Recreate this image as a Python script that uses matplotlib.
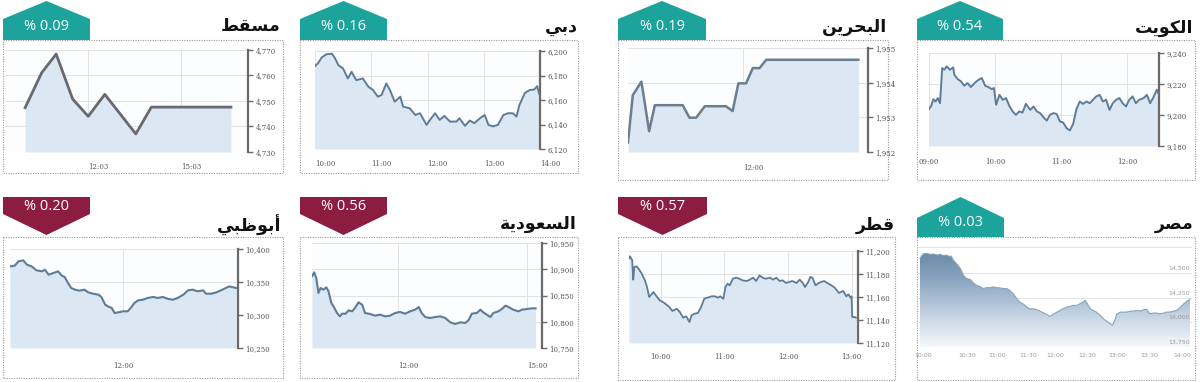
import numpy as np
import matplotlib
matplotlib.use('Agg')
import matplotlib.pyplot as plt
from matplotlib.patches import Polygon, Rectangle
from matplotlib.colors import LinearSegmentedColormap

W, H = 1200, 382

# ---------------- data ----------------
# titles (Arabic presentation forms, visual order)
t_muscat = "\uFEC2\uFED8\uFEB4\uFEE3"                      # مسقط
t_dubai = "\uFEF2\uFE91\uFEA9"                             # دبي
t_bahrain = "\uFEE6\uFEF3\uFEAE\uFEA4\uFE92\uFEDF\uFE8D"   # البحرين
t_kuwait = "\uFE96\uFEF3\uFEEE\uFEDC\uFEDF\uFE8D"          # الكويت
t_abudhabi = "\uFEF2\uFE92\uFEC7\uFEEE\uFE91\uFE83"        # أبوظبي
t_saudi = "\uFE94\uFEF3\uFEA9\uFEEE\uFECC\uFEB4\uFEDF\uFE8D"  # السعودية
t_qatar = "\uFEAE\uFEC4\uFED7"                             # قطر
t_egypt = "\uFEAE\uFEBC\uFEE3"                             # مصر

pct_muscat, pct_dubai, pct_bahrain, pct_kuwait = "% 0.09", "% 0.16", "% 0.19", "% 0.54"
pct_abudhabi, pct_saudi, pct_qatar, pct_egypt = "% 0.20", "% 0.56", "% 0.57", "% 0.03"

# Muscat (minutes after 10:00)
muscat_t = [1, 33, 61, 93, 123, 155, 215, 245, 399]
muscat_v = [4747.4, 4761.1, 4768.4, 4750.7, 4744.0, 4752.6, 4737.1, 4747.6, 4747.6]
muscat_yt = [4730, 4740, 4750, 4760, 4770]
muscat_yl = ["4,730", "4,740", "4,750", "4,760", "4,770"]
muscat_xt = [123, 303]
muscat_xl = ["12:03", "15:03"]

# Dubai (minutes after 10:00)
dubai_t = [0, 3.5, 7, 12, 18, 21, 25, 30, 35, 39, 44, 51, 57, 62, 67, 71, 76, 80, 85, 91,
           94, 101, 107, 112, 119, 124, 128, 133, 138, 144, 151, 154, 160, 165, 170, 176,
           181, 185, 190, 195, 201, 206, 211, 215, 218, 224, 229, 234, 237, 239]
dubai_v = [6187.6, 6190.3, 6194.6, 6197.3, 6197.8, 6194.6, 6188.4, 6185.7, 6177.6, 6183.0,
           6176.2, 6177.6, 6170.8, 6168.1, 6162.7, 6164.1, 6173.5, 6168.1, 6158.6, 6162.7,
           6154.6, 6153.2, 6147.8, 6149.2, 6139.7, 6145.1, 6149.2, 6143.8, 6147.0, 6142.4,
           6142.4, 6145.1, 6138.9, 6143.2, 6141.1, 6145.1, 6147.8, 6139.7, 6138.4, 6139.7,
           6147.8, 6149.2, 6149.2, 6146.5, 6155.9, 6165.9, 6168.1, 6168.6, 6171.3, 6165.4]
dubai_yt = [6120, 6140, 6160, 6180, 6200]
dubai_yl = ["6,120", "6,140", "6,160", "6,180", "6,200"]
dubai_xt = [0, 60, 120, 180, 240]
dubai_xl = ["10:00", "11:00", "12:00", "13:00", "14:00"]

# Bahrain (minutes after 10:00)
bahrain_t = [0, 5, 14, 22, 28, 57, 64, 71, 80, 102, 109, 115, 123, 130, 137, 144, 240]
bahrain_v = [1952.28, 1953.64, 1954.03, 1952.60, 1953.35, 1953.35, 1952.99, 1952.99, 1953.32,
             1953.32, 1953.18, 1953.98, 1953.98, 1954.42, 1954.42, 1954.66, 1954.66]
bahrain_yt = [1952, 1953, 1954, 1955]
bahrain_yl = ["1,952", "1,953", "1,954", "1,955"]
bahrain_xt = [120]
bahrain_xl = ["12:00"]

# Kuwait (minutes after 09:00)
kuwait_t = [0, 2, 4, 6, 8, 10, 12, 14, 16, 19, 22, 23, 26, 29, 32, 35, 38, 42, 45, 48,
            51, 54, 57, 59, 61, 64, 67, 70, 73, 76, 79, 82, 85, 88, 92, 95, 98, 101, 104, 107,
            110, 113, 116, 119, 122, 125, 128, 131, 134, 137, 140, 143, 146, 149, 152, 155,
            158, 161, 164, 167, 170, 173, 176, 179, 182, 185, 188, 191, 195, 198, 201, 204, 207, 209]
kuwait_v = [9203.8, 9205.9, 9210.2, 9208.7, 9210.9, 9207.6, 9230.3, 9229.2, 9231.4, 9229.2,
            9230.7, 9226.0, 9223.2, 9221.7, 9218.9, 9220.6, 9218.0, 9221.0, 9222.7, 9223.8,
            9218.9, 9218.0, 9216.7, 9217.4, 9206.6, 9213.0, 9209.8, 9210.9, 9205.9, 9202.3,
            9200.1, 9202.3, 9201.6, 9207.2, 9203.3, 9205.5, 9202.3, 9201.2, 9198.6, 9196.4,
            9200.1, 9201.2, 9200.7, 9195.8, 9195.1, 9191.5, 9190.0, 9194.3, 9203.8, 9208.7,
            9207.2, 9208.7, 9207.6, 9209.8, 9212.0, 9213.0, 9208.7, 9209.8, 9203.3, 9207.6,
            9209.8, 9210.9, 9207.6, 9205.5, 9209.8, 9212.0, 9207.6, 9209.8, 9210.9, 9213.0,
            9207.6, 9211.5, 9216.3, 9213.0]
kuwait_yt = [9180, 9200, 9220, 9240]
kuwait_yl = ["9,180", "9,200", "9,220", "9,240"]
kuwait_xt = [0, 60, 120, 180]
kuwait_xl = ["09:00", "10:00", "11:00", "12:00"]

# Abu Dhabi (minutes after 10:00)
abudhabi_t = [0, 5, 9, 14, 18, 23, 28, 34, 37, 41, 44, 48, 51, 55, 58, 62, 65, 69, 74, 79,
              83, 88, 94, 97, 101, 104, 108, 111, 115, 120, 125, 129, 132, 136, 141, 146, 152,
              157, 162, 168, 173, 178, 184, 189, 194, 199, 205, 208, 214, 219, 224, 229, 233, 237, 240]
abudhabi_v = [10373.7, 10374.7, 10381.3, 10382.8, 10376.3, 10373.7, 10367.7, 10366.2, 10368.7,
              10361.1, 10362.6, 10364.6, 10366.2, 10359.6, 10357.6, 10347.5, 10340.9, 10338.4,
              10336.9, 10338.4, 10334.3, 10332.3, 10330.8, 10327.3, 10315.7, 10313.1, 10310.6,
              10303.0, 10304.0, 10305.6, 10305.6, 10312.1, 10318.2, 10322.2, 10323.2, 10325.8,
              10327.3, 10325.8, 10327.3, 10324.3, 10323.2, 10325.8, 10330.8, 10337.4, 10338.4,
              10335.9, 10337.4, 10332.3, 10332.3, 10334.3, 10337.4, 10340.9, 10343.4, 10341.9, 10340.9]
abudhabi_yt = [10250, 10300, 10350, 10400]
abudhabi_yl = ["10,250", "10,300", "10,350", "10,400"]
abudhabi_xt = [120]
abudhabi_xl = ["12:00"]

# Saudi (minutes after 10:00)
saudi_t = [0, 3, 6, 9, 12, 16, 20, 23, 27, 30, 35, 39, 42, 47, 51, 56, 60, 65, 70, 74,
           81, 88, 95, 102, 109, 116, 123, 130, 137, 144, 149, 153, 158, 165, 172, 179, 186,
           193, 200, 207, 214, 219, 223, 230, 235, 239, 244, 249, 253, 260, 265, 270, 274,
           281, 288, 293, 300, 307, 312]
saudi_v = [10886.5, 10894.1, 10883.3, 10854.8, 10864.3, 10861.1, 10865.5, 10857.9, 10835.7,
           10829.4, 10816.7, 10810.3, 10815.4, 10815.4, 10821.7, 10819.8, 10826.2, 10837.0,
           10832.5, 10816.7, 10814.8, 10811.6, 10813.5, 10810.3, 10811.6, 10816.7, 10818.6,
           10815.4, 10819.8, 10823.0, 10828.1, 10816.7, 10809.0, 10807.1, 10809.0, 10810.3,
           10807.1, 10798.9, 10795.7, 10798.9, 10797.6, 10804.0, 10815.4, 10816.7, 10823.0,
           10817.9, 10813.5, 10809.0, 10816.7, 10819.8, 10824.3, 10830.6, 10828.1, 10823.0,
           10819.8, 10823.0, 10824.3, 10825.5, 10825.5]
saudi_yt = [10750, 10800, 10850, 10900, 10950]
saudi_yl = ["10,750", "10,800", "10,850", "10,900", "10,950"]
saudi_xt = [120, 300]
saudi_xl = ["12:00", "15:00"]

# Qatar (minutes after 09:30)
qatar_t = [0, 1, 3, 4, 5, 7, 9, 12, 15, 17, 19, 23, 26, 29, 32, 35, 38, 41, 45, 48,
           51, 54, 57, 59, 62, 65, 68, 71, 74, 78, 81, 84, 86, 89, 91, 93, 95, 98, 101, 104,
           107, 111, 114, 117, 120, 123, 126, 129, 133, 136, 139, 142, 145, 148, 151, 154,
           158, 161, 164, 166, 169, 171, 173, 176, 178, 181, 184, 187, 191, 194, 196, 198,
           202, 205, 207, 209, 210, 210.5, 213, 214]
qatar_v = [11193.3, 11195.4, 11191.9, 11175.1, 11186.1, 11186.7, 11184.6, 11180.3, 11174.5,
           11168.7, 11160.0, 11164.3, 11160.6, 11157.1, 11155.6, 11153.6, 11151.3, 11147.8,
           11149.8, 11146.9, 11142.0, 11143.2, 11138.2, 11144.0, 11145.5, 11146.1, 11151.3,
           11158.5, 11159.4, 11160.6, 11160.6, 11159.4, 11160.6, 11158.5, 11168.7, 11171.6,
           11170.1, 11175.9, 11176.8, 11175.9, 11174.5, 11173.9, 11175.1, 11176.8, 11173.9,
           11178.8, 11176.8, 11175.9, 11176.8, 11175.1, 11176.8, 11173.9, 11174.5, 11172.2,
           11173.0, 11173.9, 11172.2, 11175.1, 11172.2, 11168.7, 11173.0, 11177.4, 11176.8,
           11170.1, 11171.6, 11173.0, 11173.9, 11172.2, 11170.1, 11168.1, 11165.8, 11163.5,
           11165.2, 11160.6, 11162.3, 11159.4, 11160.6, 11142.6, 11142.6, 11142.0]
qatar_yt = [11120, 11140, 11160, 11180, 11200]
qatar_yl = ["11,120", "11,140", "11,160", "11,180", "11,200"]
qatar_xt = [30, 90, 150, 210]
qatar_xl = ["10:00", "11:00", "12:00", "13:00"]

# Egypt (minutes after 10:00)
egypt_t = [2, 5, 9, 12, 15, 19, 22, 25, 28, 32, 33, 35, 38, 42, 45, 48, 52, 55, 58, 62,
           65, 68, 72, 75, 78, 81, 85, 88, 91, 95, 98, 101, 105, 108, 111, 115, 118, 121,
           125, 128, 131, 134, 138, 141, 144, 148, 151, 154, 158, 161, 164, 166, 168, 171,
           174, 177, 181, 184, 187, 191, 193, 196, 197, 201, 204, 207, 211, 214, 217, 221,
           224, 227, 230, 234, 237, 240, 244, 247, 250, 254, 257, 260, 264, 267, 270]
egypt_v = [14654, 14699, 14705, 14695, 14699, 14688, 14695, 14682, 14688, 14671, 14678, 14637,
           14603, 14551, 14483, 14449, 14438, 14404, 14380, 14363, 14346, 14356, 14356, 14363,
           14356, 14353, 14346, 14346, 14329, 14288, 14243, 14209, 14185, 14158, 14140, 14140,
           14130, 14116, 14096, 14082, 14062, 14082, 14106, 14123, 14140, 14158, 14164, 14175,
           14175, 14192, 14209, 14226, 14192, 14140, 14123, 14106, 14072, 14038, 14014, 13986,
           13969, 14038, 14082, 14106, 14106, 14106, 14116, 14116, 14123, 14116, 14130, 14134,
           14089, 14096, 14096, 14089, 14096, 14106, 14106, 14116, 14123, 14151, 14192, 14219, 14233]
egypt_yt = [13750, 14000, 14250, 14500]
egypt_yl = ["13,750", "14,000", "14,250", "14,500"]
egypt_xt = [5, 49, 79, 109, 136, 168, 198, 230, 262]
egypt_xl = ["10:00", "10:30", "11:00", "11:30", "12:00", "12:30", "13:00", "13:30", "14:00"]

# ---------------- drawing ----------------
TEAL = '#1ba39c'
MAROON = '#8c1d40'
FILL = '#dbe8f4'

fig = plt.figure(figsize=(12, 3.82), dpi=100)
bg = fig.add_axes([0, 0, 1, 1], zorder=0)
bg.set_xlim(0, W)
bg.set_ylim(H, 0)
bg.axis('off')


def frac(x0, y0, x1, y1):
    return [x0 / W, 1 - y1 / H, (x1 - x0) / W, (y1 - y0) / H]


def box(x0, y0, x1, y1):
    bg.add_patch(Rectangle((x0, y0), x1 - x0, y1 - y0, fill=False,
                           ls=(0, (1, 1.2)), ec='#9b9b9b', lw=0.8))


def badge(x0, x1, kind, text):
    xc = (x0 + x1) / 2
    if kind == 'up_top':
        pts = [(x0, 40), (x0, 19), (xc, 1), (x1, 19), (x1, 40)]
        col, ty = TEAL, 27
    elif kind == 'up_bottom':
        pts = [(x0, 237), (x0, 218), (xc, 197), (x1, 218), (x1, 237)]
        col, ty = TEAL, 222
    else:
        pts = [(x0, 197), (x1, 197), (x1, 214), (xc, 235), (x0, 214)]
        col, ty = MAROON, 207
    bg.add_patch(Polygon(pts, closed=True, fc=col, ec='none'))
    bg.text(xc, ty, text, color='white', fontsize=10.5, family='Open Sans',
            ha='center', va='center')


def title(xr, y, text):
    bg.text(xr, y, text, fontsize=12.5, fontweight='bold', family='DejaVu Sans',
            color='#111111', ha='right', va='center')


def panel(area, t, v, xlim, yt, yl, xt, xl, ha, line_color, lw, xpad):
    ax = fig.add_axes(frac(*area), zorder=1)
    ax.set_facecolor('#fcfdfe')
    ax.fill_between(t, v, yt[0], color=FILL, lw=0, zorder=2)
    ax.plot(t, v, color=line_color, lw=lw, zorder=3, solid_joinstyle='round')
    ax.set_xlim(*xlim)
    ax.set_ylim(yt[0], yt[-1])
    ax.yaxis.tick_right()
    ax.set_yticks(yt)
    ax.set_yticklabels(yl)
    ax.set_xticks(xt)
    ax.set_xticklabels(xl)
    for lab in ax.get_xticklabels():
        lab.set_ha(ha)
    ax.tick_params(axis='y', direction='out', length=3.5, width=1, color='#6a6a6a',
                   labelsize=5, labelcolor='#555555', pad=2)
    ax.tick_params(axis='x', length=0, labelsize=5, labelcolor='#555555', pad=xpad)
    for lab in ax.get_xticklabels() + ax.get_yticklabels():
        lab.set_family('DejaVu Serif')
    for s in ['left', 'top', 'bottom']:
        ax.spines[s].set_visible(False)
    ax.spines['right'].set_color('#6a6a6a')
    ax.spines['right'].set_linewidth(1.6)
    ax.grid(True, color='#e2e2e2', lw=0.7)
    ax.set_axisbelow(True)
    return ax


LINE = '#5e7b97'

# Top row
box(3, 40, 283, 173)
panel((5, 50, 248, 152), muscat_t, muscat_v, (-38, 432), muscat_yt, muscat_yl,
      muscat_xt, muscat_xl, 'left', '#68696f', 2.0, 8)
badge(3, 90, 'up_top', pct_muscat)
title(280, 26, t_muscat)

box(300, 40, 578, 173)
panel((315, 51, 540, 149), dubai_t, dubai_v, (0, 240), dubai_yt, dubai_yl,
      dubai_xt, dubai_xl, 'left', LINE, 1.4, 8)
badge(300, 387, 'up_top', pct_dubai)
title(578, 27, t_dubai)

box(618, 40, 888, 180)
panel((628, 48, 868, 152), bahrain_t, bahrain_v, (0, 250), bahrain_yt, bahrain_yl,
      bahrain_xt, bahrain_xl, 'left', '#6c7e8e', 1.8, 9)
badge(618, 706, 'up_top', pct_bahrain)
title(887, 27, t_bahrain)

box(917, 40, 1195, 180)
panel((929, 53, 1159, 146), kuwait_t, kuwait_v, (0, 209), kuwait_yt, kuwait_yl,
      kuwait_xt, kuwait_xl, 'center', LINE, 1.4, 9)
badge(917, 1003, 'up_top', pct_kuwait)
title(1193, 28, t_kuwait)

# Bottom row
box(3, 237, 283, 378)
panel((10, 249, 238, 348), abudhabi_t, abudhabi_v, (0, 242), abudhabi_yt, abudhabi_yl,
      abudhabi_xt, abudhabi_xl, 'center', LINE, 1.5, 10)
badge(3, 90, 'down', pct_abudhabi)
title(281, 225, t_abudhabi)

box(300, 237, 578, 378)
panel((312, 243, 542, 348), saudi_t, saudi_v, (0, 321), saudi_yt, saudi_yl,
      saudi_xt, saudi_xl, 'left', LINE, 1.5, 10)
badge(300, 387, 'down', pct_saudi)
title(577, 224, t_saudi)

box(618, 237, 895, 380)
panel((629, 251, 858, 343), qatar_t, qatar_v, (0, 216), qatar_yt, qatar_yl,
      qatar_xt, qatar_xl, 'center', LINE, 1.3, 7)
badge(618, 707, 'down', pct_qatar)
title(895, 225, t_qatar)

# Egypt (gradient style)
box(917, 237, 1195, 380)
ax = fig.add_axes(frac(918, 247, 1192, 347), zorder=1)
ax.set_facecolor('white')
e_ylim = (13750, 14770)
e_xlim = (0, 272)
poly = ax.fill_between(egypt_t, egypt_v, e_ylim[0], color='none', lw=0)
cmap = LinearSegmentedColormap.from_list('eg', ['#f5f8fb', '#c4d3e2', '#8fa9c3', '#6887a8'])
grad = np.linspace(0, 1, 256).reshape(-1, 1)
im = ax.imshow(grad, extent=[e_xlim[0], e_xlim[1], e_ylim[0], 14720], origin='lower',
               aspect='auto', cmap=cmap, zorder=2)
im.set_clip_path(poly.get_paths()[0], transform=ax.transData)
ax.plot(egypt_t, egypt_v, color='#8aa3bc', lw=0.8, zorder=3)
ax.set_xlim(*e_xlim)
ax.set_ylim(*e_ylim)
ax.set_yticks(egypt_yt)
ax.set_yticklabels([])
ax.tick_params(axis='y', length=0)
ax.set_xticks(egypt_xt)
ax.set_xticklabels(egypt_xl)
ax.tick_params(axis='x', length=0, labelsize=4.5, labelcolor='#9a9a9a', pad=4)
for s in ax.spines.values():
    s.set_visible(False)
ax.grid(True, axis='y', color='#e4e4e4', lw=0.7)
ax.axhline(14770, color='#e4e4e4', lw=0.7)
ax.set_axisbelow(True)
for yv, lab in zip(egypt_yt, egypt_yl):
    ax.text(e_xlim[1] - 2, yv + 25, lab, fontsize=4.5, color='#9a9a9a',
            ha='right', va='bottom', zorder=4)
badge(917, 1004, 'up_bottom', pct_egypt)
title(1193, 224, t_egypt)

fig.savefig('out.png', dpi=100, facecolor='white')
